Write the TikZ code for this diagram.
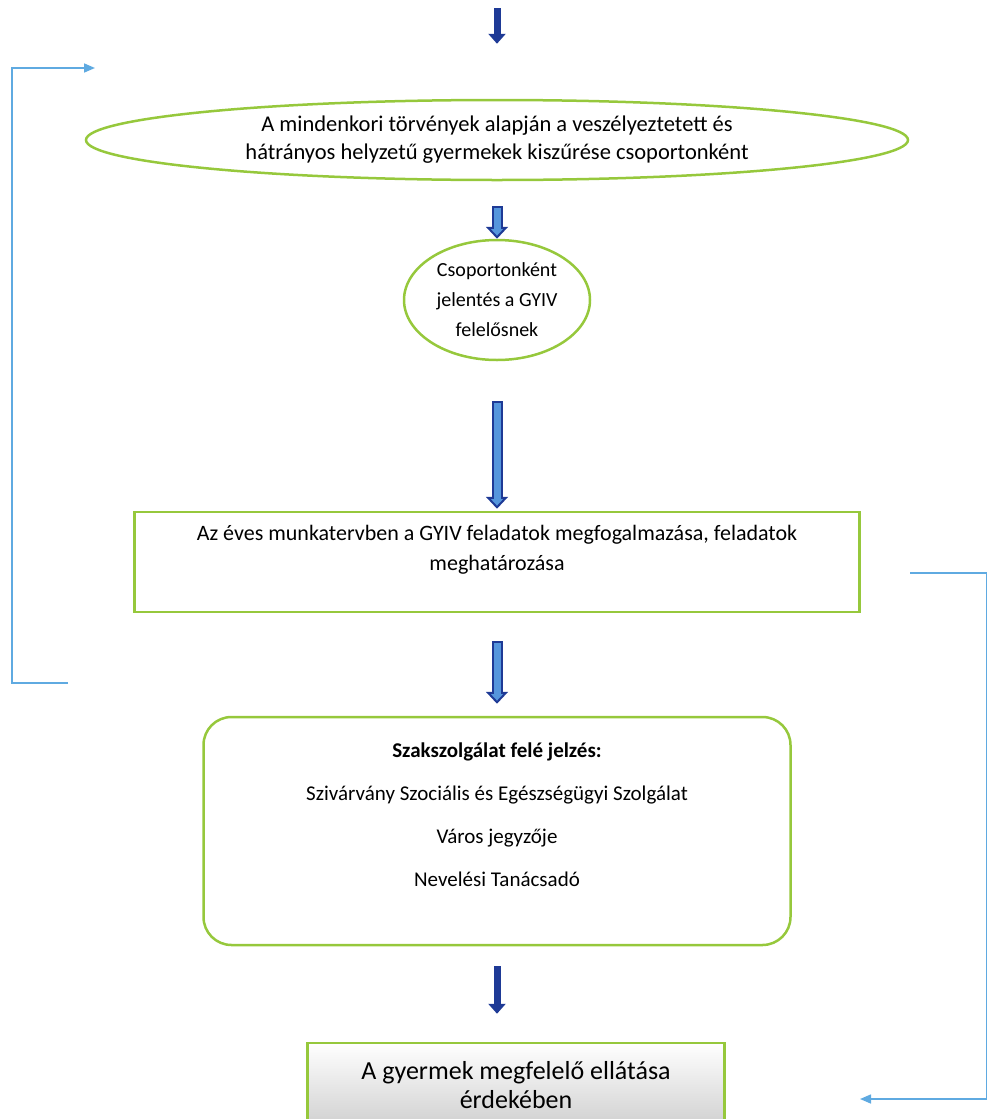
\documentclass[tikz,border=0pt]{standalone}
\usepackage{fontspec}
\setmainfont{Carlito}
\usetikzlibrary{shapes.geometric, arrows.meta}
\definecolor{leafgreen}{RGB}{150,200,60}
\definecolor{navyarrow}{RGB}{30,58,150}
\definecolor{skyarrow}{RGB}{85,150,220}
\definecolor{loopblue}{RGB}{95,170,225}
\tikzset{
	% green outlined shapes: oval, plain box, rounded box
	oval node/.style={ellipse, draw=leafgreen, line width=2.5pt, align=center, inner sep=0},
	box node/.style={rectangle, draw=leafgreen, line width=2.5pt, align=center},
	round node/.style={rectangle, rounded corners=28pt, draw=leafgreen, line width=2.5pt, align=center},
	% arrows between the steps: thin dark one and outlined block one
	thin arrow/.style={draw=navyarrow, line width=7pt, -{Triangle[width=17pt,length=10pt]}},
	block back/.style 2 args={draw=navyarrow, line width=11pt, shorten <=#1, shorten >=#2,
	-{Triangle[width=22pt,length=12pt,fill=skyarrow,line width=2pt]}},
	block front/.style 2 args={draw=skyarrow, line width=7pt, shorten <=#1+2pt, shorten >=#2+10pt},
	loop line/.style={draw=loopblue, line width=1.6pt, -{Triangle[width=9pt,length=11pt]}}
}

\begin{document}
\begin{tikzpicture}[x=1pt, y=-1pt]

  \useasboundingbox (0,0) rectangle (987,1119);

  \coordinate(start) at (497, 8);
  \node(filter) at (497, 140) [oval node, minimum width=822pt, minimum height=80pt,
  font=\fontsize{22.5pt}{28pt}\selectfont]
  {A mindenkori törvények alapján a veszélyeztetett és\\hátrányos helyzetű gyermekek kiszűrése csoportonként};
  \node(report) at (497, 300) [oval node, minimum width=186pt, minimum height=120pt,
  font=\fontsize{20pt}{30pt}\selectfont]{Csoportonként\\jelentés a GYIV\\felelősnek};
  \node(plan) at (497, 562) [box node, minimum width=725pt, minimum height=100pt, text depth=28pt,
  font=\fontsize{22pt}{30pt}\selectfont]
  {Az éves munkatervben a GYIV feladatok megfogalmazása, feladatok\\meghatározása};
  \node(service) at (497, 831) [round node, minimum width=587pt, minimum height=228pt, text depth=32pt,
  font=\fontsize{21pt}{28pt}\selectfont]
  {\textbf{Szakszolgálat felé jelzés:}\\[15pt]Szivárvány Szociális és Egészségügyi Szolgálat\\[15pt]
  Város jegyzője\\[15pt]Nevelési Tanácsadó};
  \node(care) at (516, 1093) [box node, minimum width=417pt, minimum height=100pt, text depth=16pt,
  top color=white, bottom color=black!22, font=\fontsize{26pt}{29pt}\selectfont]
  {A gyermek megfelelő ellátása\\érdekében};

  %% arrows down the chain
  \path (start) edge[thin arrow, shorten >=55pt] (filter);
  \path (filter) edge[block back={25pt}{0pt}] (report);
  \path (filter) edge[block front={25pt}{0pt}] (report);
  \path (report) edge[block back={40pt}{2pt}] (plan);
  \path (report) edge[block front={40pt}{2pt}] (plan);
  \path (plan) edge[block back={28pt}{12pt}] (service);
  \path (plan) edge[block front={28pt}{12pt}] (service);
  \path (service) edge[thin arrow, shorten <=20pt, shorten >=28pt] (care.north -| service.south);

  %% feedback lines on both sides
  \coordinate(loopstart) at (68, 683);
  \coordinate(loopcorner) at (12, 683);
  \coordinate(loopend) at (95, 68);
  \draw[loop line] (loopstart) -- (loopcorner) |- (loopend);

  \coordinate(backstart) at (910, 573);
  \coordinate(backcorner) at (987, 573);
  \coordinate(backend) at (860, 1099);
  \draw[loop line] (backstart) -- (backcorner) |- (backend);

\end{tikzpicture}
\end{document}
